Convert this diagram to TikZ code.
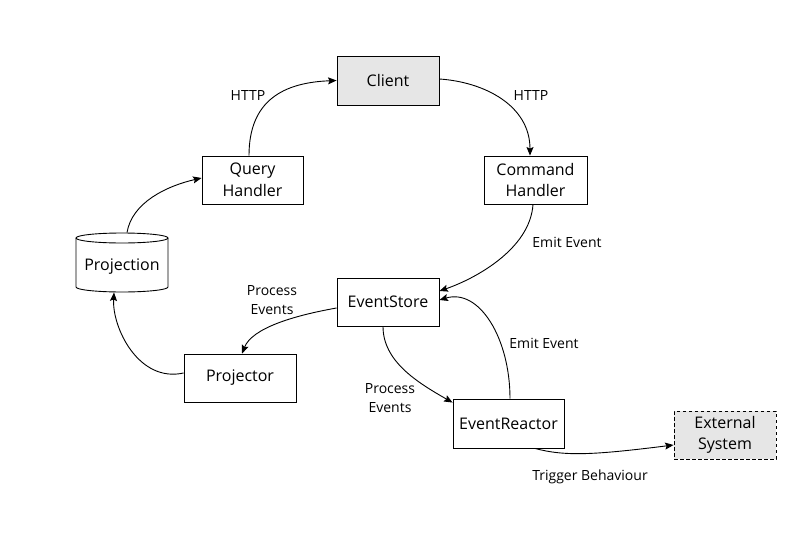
\documentclass[tikz,border=0pt]{standalone}
\usepackage{fontspec}
\setmainfont{Open Sans}
\usetikzlibrary{arrows.meta}
\definecolor{boxgray}{HTML}{E6E6E6}
\begin{document}
\begin{tikzpicture}[x=1pt,y=1pt,
  box/.style={draw, line width=0.9pt, inner sep=0pt, font=\fontsize{16}{21.5}\selectfont, align=center},
  lbl/.style={font=\fontsize{14}{19}\selectfont, align=center, inner sep=0pt},
  conn/.style={line width=0.9pt, -{Stealth[length=8.5pt,width=7pt,inset=1.5pt]}}]
\useasboundingbox (0,0) rectangle (806,-536);

\node[box, fill=boxgray, minimum width=102, minimum height=49] (client) at (388,-80.5) {Client};
\node[box, minimum width=101, minimum height=48] (qh) at (252.5,-180) {Query\\Handler};
\node[box, minimum width=103, minimum height=48] (ch) at (535.5,-180) {Command\\Handler};
\node[box, minimum width=102, minimum height=48] (es) at (388,-302) {EventStore};
\node[box, minimum width=112, minimum height=48] (pr) at (240,-378) {Projector};
\node[box, minimum width=111, minimum height=49] (er) at (508.5,-423.5) {EventReactor};
\node[box, fill=boxgray, dashed, dash pattern=on 3.5pt off 2.5pt, minimum width=102, minimum height=48] (ext) at (725,-435) {External\\System};
\node[box, draw=none, minimum width=92, minimum height=59] (proj) at (122,-262.5) {};

% cylinder outline
\draw[line width=0.9pt] (122,-238) ellipse [x radius=46, y radius=5];
\draw[line width=0.9pt] (76,-238) -- (76,-287) arc [start angle=180, end angle=360, x radius=46, y radius=5] -- (168,-238);
\node[box, draw=none] (projtxt) at (122,-266.5) {Projection};

% connectors
\draw[conn] ([xshift=-3.5pt]qh.north) .. controls +(0,56) and +(-52,-2) .. (client.west);
\draw[conn] ([yshift=1.5pt]client.east) .. controls +(45,-3) and +(0,50) .. ([xshift=-5.5pt]ch.north);
\draw[conn] ([xshift=-2.5pt]ch.south) .. controls +(-3,-45) and +(35,12) .. ([yshift=11pt]es.east);
\draw[conn] ([xshift=1.5pt]er.north) .. controls +(0,60) and +(40,12) .. ([yshift=2pt]es.east);
\draw[conn] ([xshift=-5pt]es.south) .. controls +(0,-35) and +(-35,20) .. ([yshift=-4pt]er.north west);
\draw[conn] ([yshift=-6pt]es.west) .. controls +(-45,-8) and +(10,25) .. ([xshift=2pt]pr.north);
\draw[conn] ([yshift=5pt]pr.west) .. controls +(-45,-10) and +(-2,-35) .. ([xshift=-8pt]proj.south);
\draw[conn] ([xshift=5pt]proj.north) .. controls +(5,30) and +(-35,-8) .. ([yshift=2pt]qh.west);
\draw[conn] ([xshift=26.5pt]er.south) .. controls +(30,-8) and +(-80,-10) .. ([yshift=-10pt]ext.west);

% labels
\node[lbl] (l1) at (248,-95) {HTTP};
\node[lbl] (l2) at (531,-95) {HTTP};
\node[lbl] (l3) at (567,-242) {Emit Event};
\node[lbl] (l4) at (544,-343) {Emit Event};
\node[lbl] (l5) at (272,-300) {Process\\Events};
\node[lbl] (l6) at (390,-398) {Process\\Events};
\node[lbl] (l7) at (590,-477) {Trigger Behaviour};
\end{tikzpicture}
\end{document}
